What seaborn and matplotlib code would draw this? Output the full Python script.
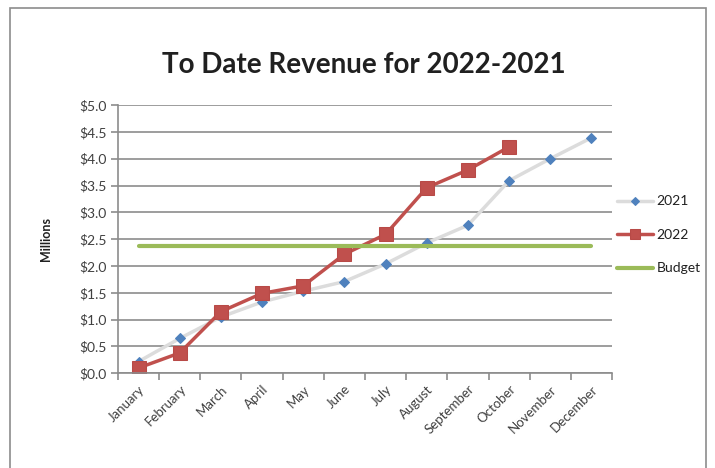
import pandas as pd
import seaborn as sns
import matplotlib.pyplot as plt
from matplotlib.patches import Rectangle

months = ['January', 'February', 'March', 'April', 'May', 'June',
          'July', 'August', 'September', 'October', 'November', 'December']
rev_2021 = [0.22, 0.65, 1.05, 1.33, 1.53, 1.71, 2.04, 2.43, 2.76, 3.59, 4.00, 4.39]
rev_2022 = [0.10, 0.38, 1.15, 1.49, 1.63, 2.22, 2.59, 3.46, 3.79, 4.22]
budget = 2.38
yticks = [0.0, 0.5, 1.0, 1.5, 2.0, 2.5, 3.0, 3.5, 4.0, 4.5, 5.0]

sns.set_theme(style='white')
plt.rcParams['font.family'] = ['Lato', 'DejaVu Sans']

df21 = pd.DataFrame({'Month': months, 'Revenue': rev_2021})
df22 = pd.DataFrame({'Month': months[:len(rev_2022)], 'Revenue': rev_2022})
dfb = pd.DataFrame({'Month': months, 'Revenue': [budget] * len(months)})

fig = plt.figure(figsize=(7.15, 4.68), dpi=100)
ax = fig.add_axes([0.165, 0.2023, 0.691, 0.5733])

sns.lineplot(data=df21, x='Month', y='Revenue', ax=ax, sort=False,
             color='#dcdcdc', lw=2.5, marker='D', ms=5,
             markerfacecolor='#4f81bd', markeredgecolor='#4f81bd', label='2021')
sns.lineplot(data=df22, x='Month', y='Revenue', ax=ax, sort=False,
             color='#c0504d', lw=2.5, marker='s', ms=10,
             markerfacecolor='#c0504d', markeredgecolor='#b84a47', label='2022')
sns.lineplot(data=dfb, x='Month', y='Revenue', ax=ax, sort=False,
             color='#9bbb59', lw=3, label='Budget')

ax.set_xlim(-0.5, 11.5)
ax.set_ylim(0, 5)
ax.set_yticks(yticks)
ax.set_yticklabels([f'${v:.1f}' for v in yticks], fontsize=10, color='#404040')
ax.yaxis.grid(True, color='#8c8c8c', lw=1.2)
ax.set_axisbelow(True)
ax.set_xticks(range(len(months)))
ax.set_xticklabels(months, rotation=45, ha='right', rotation_mode='anchor',
                   fontsize=9.5, color='#404040')
ax.set_xticks([i - 0.5 for i in range(len(months) + 1)], minor=True)
ax.tick_params(axis='x', which='major', length=0, pad=7)
ax.tick_params(axis='x', which='minor', length=5, color='#8c8c8c', width=1.2,
               bottom=True)
ax.tick_params(axis='y', length=5, color='#8c8c8c', width=1.2, left=True, pad=3)
for side in ['top', 'right']:
    ax.spines[side].set_visible(False)
for side in ['left', 'bottom']:
    ax.spines[side].set_color('#8c8c8c')
    ax.spines[side].set_linewidth(1.2)
ax.set_xlabel('')
ax.set_ylabel('Millions', fontsize=9, fontweight='bold', color='#202020',
              labelpad=20)

leg = ax.legend(loc='center left', bbox_to_anchor=(0.845, 0.498),
                bbox_transform=fig.transFigure, frameon=False, fontsize=10,
                handlelength=2.6, handletextpad=0.25, labelspacing=1.55,
                labelcolor='#202020')
handles = leg.legend_handles
handles[0].set_markersize(4)
handles[1].set_markersize(7)

fig.text(0.509, 0.861, 'To Date Revenue for 2022-2021', ha='center', va='center',
         fontsize=20, fontweight='bold', color='#202020')

fig.patches.append(Rectangle((10 / 715, -0.05), 696 / 715, 1.0 - 8 / 468 + 0.05,
                             transform=fig.transFigure, fill=False,
                             edgecolor='#8c8c8c', lw=1.2))

fig.savefig('out.png', dpi=100, facecolor='white')
